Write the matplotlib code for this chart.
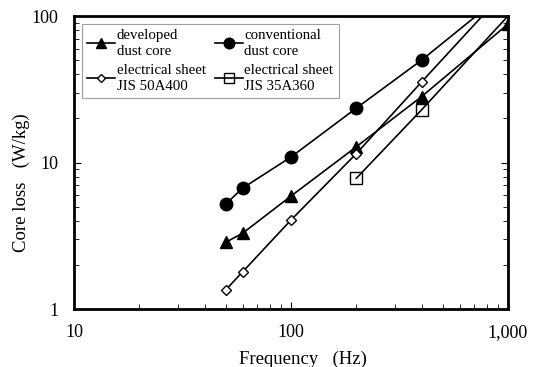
import matplotlib
matplotlib.use("Agg")
import matplotlib.pyplot as plt
from matplotlib.ticker import LogLocator, FuncFormatter, NullFormatter

plt.rcParams['font.family'] = ['Liberation Serif', 'DejaVu Serif']

freq_dev = [50, 60, 100, 200, 400, 1000]
loss_dev = [2.85, 3.3, 5.9, 12.8, 28.2, 88]

freq_conv = [50, 60, 100, 200, 400, 1000]
loss_conv = [5.2, 6.7, 10.9, 23.5, 50, 150]

freq_50a = [50, 60, 100, 200, 400, 1000]
loss_50a = [1.35, 1.8, 4.05, 11.5, 35.5, 155]

freq_35a = [200, 400, 1000]
loss_35a = [7.8, 22.9, 100]

labels = ["developed\ndust core", "conventional\ndust core",
          "electrical sheet\nJIS 50A400", "electrical sheet\nJIS 35A360"]

fig = plt.figure(figsize=(5.35, 3.67), dpi=100)
ax = fig.add_axes([0.1383, 0.158, 0.8112, 0.7984])

kw = dict(color='black', lw=1.2)
h_dev, = ax.plot(freq_dev, loss_dev, marker='^', ms=9, mfc='black', mec='black', label=labels[0], **kw)
h_conv, = ax.plot(freq_conv, loss_conv, marker='o', ms=9, mfc='black', mec='black', label=labels[1], **kw)
h_50a, = ax.plot(freq_50a, loss_50a, marker='D', ms=5, mfc='white', mec='black', mew=1.0, label=labels[2], **kw)
h_35a, = ax.plot(freq_35a, loss_35a, marker='s', ms=9, mfc='none', mec='black', mew=1.0,
                 markevery=[0, 1], label=labels[3], **kw)

ax.set_xscale('log')
ax.set_yscale('log')
ax.set_xlim(10, 1000)
ax.set_ylim(1, 100)

fmt = FuncFormatter(lambda v, p: "{:,}".format(int(round(v))))
ax.xaxis.set_major_formatter(fmt)
ax.yaxis.set_major_formatter(fmt)
ax.xaxis.set_minor_formatter(NullFormatter())
ax.yaxis.set_minor_formatter(NullFormatter())
ax.xaxis.set_minor_locator(LogLocator(base=10, subs=range(2, 10)))
ax.yaxis.set_minor_locator(LogLocator(base=10, subs=range(2, 10)))

ax.tick_params(which='both', direction='in', top=False, right=True, labelsize=13, colors='black')
ax.tick_params(which='major', length=5, width=0.8, pad=11)
ax.tick_params(which='minor', length=3.5, width=0.6)

for s in ax.spines.values():
    s.set_linewidth(2)

ax.set_xlabel("Frequency   (Hz)", fontsize=13.5)
ax.xaxis.set_label_coords(0.528, -0.142)
ax.set_ylabel("Core loss   (W/kg)", fontsize=13.5)
ax.yaxis.set_label_coords(-0.101, 0.433)

leg = ax.legend([h_dev, h_50a, h_conv, h_35a],
                [labels[0], labels[2], labels[1], labels[3]],
                loc='upper left', ncol=2, fontsize=10.7, frameon=True, fancybox=False,
                edgecolor='#888888', handlelength=1.9, handletextpad=0.1,
                columnspacing=0.6, borderpad=0.35, labelspacing=0.4,
                markerscale=0.85,
                bbox_to_anchor=(0.018, 0.973), borderaxespad=0.0)
leg.get_frame().set_linewidth(0.8)
for t in leg.get_texts():
    t.set_linespacing(1.3)

fig.savefig("out.png", dpi=100)
